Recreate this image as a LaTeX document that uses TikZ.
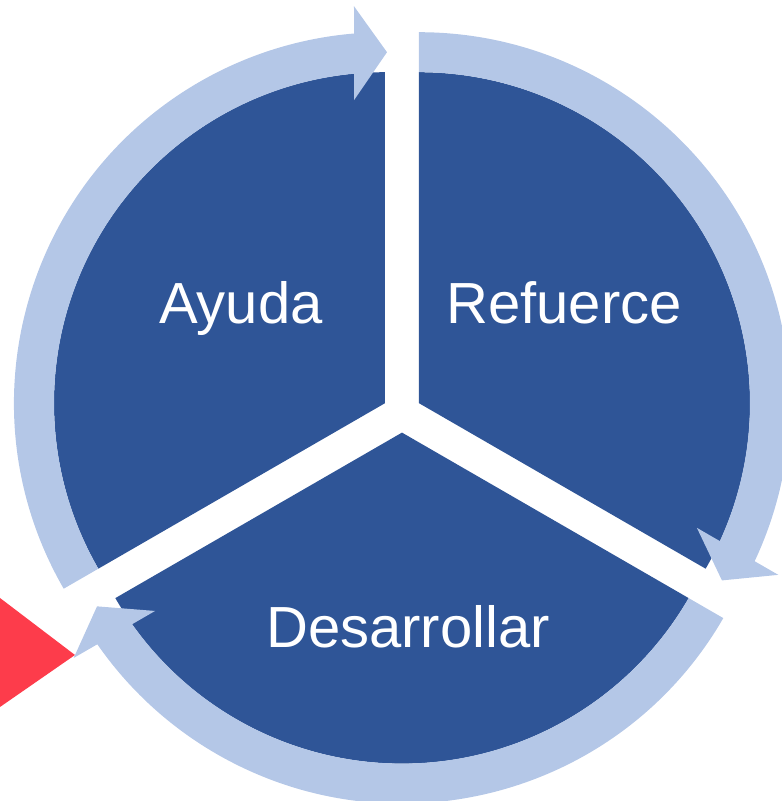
\documentclass[tikz,border=0pt]{standalone}
\usepackage{fontspec}
\setmainfont{Liberation Sans}
\definecolor{darkblue}{HTML}{2F5597}
\definecolor{lightblue}{HTML}{B4C7E7}
\definecolor{redtri}{RGB}{253,60,75}
\begin{document}
\begin{tikzpicture}[x=1pt,y=1pt,
  sector/.style={fill=darkblue},
  ringarrow/.style={fill=lightblue},
  segtext/.style={text=white, font=\fontsize{58}{70}\selectfont, anchor=base, inner sep=0pt}]
\useasboundingbox (-402,-388) rectangle (380,413);
\clip (-402,-388) rectangle (380,413);
% red marker
\fill[redtri] (-430,-163.7) -- (-327,-242) -- (-430,-313.4) -- cycle;
% sectors
\begin{scope}[shift={(-17,9.8)}]
  \coordinate (ca) at (0,0);
  \fill[sector] (0,0) -- (90:331) arc[start angle=90, end angle=210, radius=331] -- cycle;
\end{scope}
\begin{scope}[shift={(17,9.8)}]
  \coordinate (cr) at (0,0);
  \fill[sector] (0,0) -- (-30:331) arc[start angle=-30, end angle=90, radius=331] -- cycle;
\end{scope}
\begin{scope}[shift={(0,-19.6)}]
  \coordinate (cd) at (0,0);
  \fill[sector] (0,0) -- (210:331) arc[start angle=210, end angle=330, radius=331] -- cycle;
\end{scope}
% circular arrows
\begin{scope}[shift={(-17,9.8)}]
  \fill[ringarrow] (210:331) -- (210:371) arc[start angle=210, end angle=94.79, radius=371]
    -- (94.465:398.2) -- (89.674:351) -- (95.842:304.6) -- (95.374:331)
    arc[start angle=95.374, end angle=210, radius=331] -- cycle;
\end{scope}
\begin{scope}[shift={(17,9.8)}]
  \fill[ringarrow] (90:331) -- (90:371) arc[start angle=90, end angle=-25.21, radius=371]
    -- (-25.535:398.2) -- (-30.326:351) -- (-24.158:304.6) -- (-24.626:331)
    arc[start angle=-24.626, end angle=90, radius=331] -- cycle;
\end{scope}
\begin{scope}[shift={(0,-19.6)}]
  \fill[ringarrow] (330:331) -- (330:371) arc[start angle=330, end angle=214.79, radius=371]
    -- (214.465:398.2) -- (209.674:351) -- (215.842:304.6) -- (215.374:331)
    arc[start angle=215.374, end angle=330, radius=331] -- cycle;
\end{scope}
% labels
\node[segtext] (ayuda) at (-161,90) {Ayuda};
\node[segtext] (refuerce) at (162,90) {Refuerce};
\node[segtext] (desarrollar) at (6,-234) {Desarrollar};
\end{tikzpicture}
\end{document}
